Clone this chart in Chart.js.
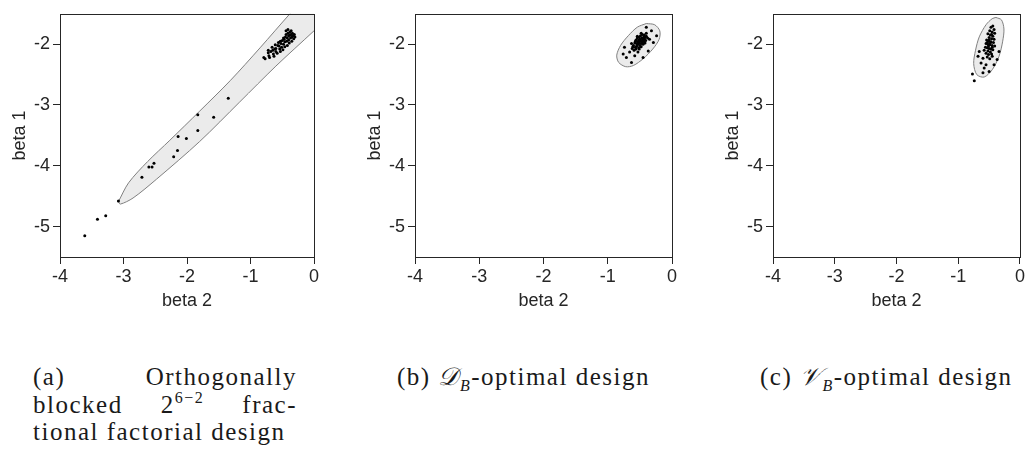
<!DOCTYPE html>
<html>
<head>
<meta charset="utf-8">
<script src="https://cdn.jsdelivr.net/npm/chart.js@4.4.1/dist/chart.umd.min.js"></script>
<style>
  html, body { margin: 0; padding: 0; background: #fff; }
  body { width: 1027px; height: 466px; position: relative; overflow: hidden; }
  canvas { position: absolute; top: 0; }
  .cap { position: absolute; font-family: 'Liberation Serif', serif; font-size: 25px; line-height: 27.5px; letter-spacing: 1.5px; color: #1a1a1a; }
  .cap .line { display: flex; justify-content: space-between; white-space: nowrap; }
  .cap sup { font-size: 16px; line-height: 0; position: relative; top: 0px; }
  .cap sub { font-size: 16px; line-height: 0; font-style: italic; }
  .cal { font-style: italic; }
</style>
</head>
<body>
<canvas id="plot-a" width="330" height="320" style="left:0px"></canvas>
<canvas id="plot-b" width="330" height="320" style="left:355px"></canvas>
<canvas id="plot-c" width="314" height="320" style="left:713px"></canvas>

<div class="cap" style="left:33px; top:363px; width:264px">
  <div class="line"><span>(a)</span><span>Orthogonally</span></div>
  <div class="line"><span>blocked</span><span>2<sup>6−2</sup></span><span>frac-</span></div>
  <div class="line"><span>tional factorial design</span></div>
</div>
<div class="cap" style="left:397px; top:363px;">(b) <span class="cal">𝒟</span><sub>B</sub>-optimal design</div>
<div class="cap" style="left:760px; top:363px;">(c) <span class="cal">𝒱</span><sub>B</sub>-optimal design</div>

<script>
// axes (same for all three panels)
const xRange = [-4, 0];
const yRange = [-5.5, -1.5];
const xTicks = [-4, -3, -2, -1, 0];
const yTicks = [-5, -4, -3, -2];

// (a) orthogonally blocked fractional factorial: region outline + simulated draws [beta2, beta1]
const regionA = [
    [-3.08, -4.59], [-2.92, -4.28], [-2.62, -3.93], [-2.27, -3.58], [-1.80, -3.10],
    [-1.32, -2.60], [-0.85, -2.06], [-0.38, -1.50], [0.20, -0.83],
    [0.20, -1.58], [0.00, -1.78], [-0.60, -2.36], [-1.17, -2.95], [-1.80, -3.60],
    [-2.48, -4.22], [-2.85, -4.53], [-3.05, -4.63], [-3.08, -4.59],
];
const pointsA = [
    [-3.61, -5.15], [-3.41, -4.88], [-3.28, -4.82], [-3.08, -4.58], [-2.71, -4.19],
    [-2.60, -4.02], [-2.55, -4.02], [-2.52, -3.96], [-2.21, -3.85], [-2.15, -3.75],
    [-2.14, -3.52], [-2.01, -3.55], [-1.83, -3.16], [-1.83, -3.42], [-1.58, -3.20],
    [-1.35, -2.89],
    [-0.79, -2.22], [-0.77, -2.24], [-0.72, -2.10], [-0.72, -2.14], [-0.71, -2.19],
    [-0.70, -2.22], [-0.66, -2.05], [-0.65, -2.10], [-0.64, -2.16], [-0.63, -2.20],
    [-0.61, -2.01], [-0.60, -2.07], [-0.60, -2.12], [-0.58, -2.15], [-0.56, -1.97],
    [-0.55, -2.03], [-0.54, -2.08], [-0.53, -2.12], [-0.52, -1.99], [-0.51, -2.05],
    [-0.50, -1.94], [-0.49, -2.09], [-0.48, -2.00], [-0.47, -1.92], [-0.46, -1.96],
    [-0.46, -2.04], [-0.45, -1.88], [-0.44, -1.84], [-0.43, -1.95], [-0.42, -2.02],
    [-0.42, -1.90], [-0.41, -1.82], [-0.40, -1.86], [-0.40, -1.93], [-0.39, -1.98],
    [-0.38, -1.85], [-0.38, -1.80], [-0.37, -1.90], [-0.36, -1.84], [-0.35, -1.88],
    [-0.35, -1.95], [-0.34, -1.82], [-0.33, -1.86], [-0.32, -1.91], [-0.31, -1.84],
    [-0.30, -1.88], [-0.44, -1.78], [-0.41, -1.76], [-0.36, -1.78], [-0.48, -1.90],
    [-0.53, -1.95], [-0.57, -2.02], [-0.62, -2.08], [-0.68, -2.12],
];

// (b) D_B-optimal design
const regionB = [
    [-0.40, -1.66], [-0.27, -1.68], [-0.19, -1.78], [-0.20, -1.92], [-0.30, -2.08],
    [-0.45, -2.24], [-0.60, -2.35], [-0.72, -2.37], [-0.83, -2.30], [-0.86, -2.18],
    [-0.80, -2.02], [-0.68, -1.86], [-0.54, -1.72], [-0.40, -1.66],
];
const pointsB = [
    [-0.32, -1.78], [-0.24, -1.86], [-0.29, -1.97], [-0.37, -2.11], [-0.45, -2.22],
    [-0.66, -2.13], [-0.71, -2.22], [-0.63, -2.30], [-0.76, -2.16], [-0.58, -2.19],
    [-0.53, -2.13], [-0.35, -1.92], [-0.74, -2.05], [-0.40, -1.72],
    [-0.60, -2.02], [-0.58, -1.98], [-0.57, -2.05], [-0.56, -1.93], [-0.55, -1.99],
    [-0.55, -2.03], [-0.54, -1.90], [-0.53, -1.96], [-0.53, -2.00], [-0.52, -2.06],
    [-0.52, -1.93], [-0.51, -1.88], [-0.51, -1.98], [-0.50, -2.02], [-0.50, -1.92],
    [-0.49, -1.95], [-0.49, -1.86], [-0.48, -1.99], [-0.48, -2.04], [-0.47, -1.90],
    [-0.47, -1.94], [-0.46, -1.97], [-0.46, -1.84], [-0.45, -1.91], [-0.45, -2.00],
    [-0.44, -1.88], [-0.44, -1.95], [-0.43, -1.92], [-0.43, -1.85], [-0.42, -1.98],
    [-0.42, -1.89], [-0.41, -1.94], [-0.40, -1.87], [-0.40, -1.82], [-0.62, -2.07],
    [-0.59, -2.10], [-0.56, -2.08], [-0.63, -1.99], [-0.54, -1.87], [-0.48, -1.82],
    [-0.38, -1.90], [-0.57, -1.95], [-0.61, -2.04], [-0.51, -2.08],
];

// (c) V_B-optimal design
const regionC = [
    [-0.39, -1.56], [-0.30, -1.60], [-0.26, -1.75], [-0.28, -1.95], [-0.34, -2.20],
    [-0.45, -2.42], [-0.58, -2.54], [-0.70, -2.50], [-0.75, -2.32], [-0.72, -2.10],
    [-0.66, -1.88], [-0.55, -1.68], [-0.45, -1.58], [-0.39, -1.56],
];
const pointsC = [
    [-0.66, -2.12], [-0.68, -2.20], [-0.60, -2.23], [-0.63, -2.31], [-0.55, -2.34],
    [-0.58, -2.39], [-0.50, -2.45], [-0.60, -2.47], [-0.42, -2.34], [-0.37, -2.25],
    [-0.34, -2.12], [-0.45, -2.20], [-0.77, -2.49], [-0.74, -2.60],
    [-0.47, -1.72], [-0.44, -1.70], [-0.42, -1.76], [-0.49, -1.78], [-0.45, -1.80],
    [-0.41, -1.82], [-0.52, -1.83], [-0.48, -1.85], [-0.44, -1.87], [-0.50, -1.89],
    [-0.46, -1.91], [-0.42, -1.92], [-0.54, -1.93], [-0.51, -1.95], [-0.47, -1.96],
    [-0.43, -1.97], [-0.55, -1.99], [-0.52, -2.00], [-0.49, -2.01], [-0.45, -2.02],
    [-0.41, -2.03], [-0.56, -2.05], [-0.53, -2.06], [-0.50, -2.07], [-0.47, -2.08],
    [-0.44, -2.09], [-0.58, -2.10], [-0.52, -2.11], [-0.48, -2.13], [-0.55, -2.15],
    [-0.51, -2.17], [-0.46, -2.16], [-0.53, -2.21], [-0.49, -2.24], [-0.50, -1.93],
    [-0.46, -1.84], [-0.51, -2.03], [-0.48, -1.98], [-0.53, -1.97], [-0.45, -2.05],
];

const AXIS_FONT = { family: "'Liberation Sans', Arial, sans-serif", size: 18 };
const INK = '#262626';

// box round the plot area
const framePlugin = {
    id: 'frame',
    afterDatasetsDraw(chart) {
        const { ctx, chartArea: a } = chart;
        ctx.save();
        ctx.strokeStyle = INK;
        ctx.lineWidth = 1;
        ctx.strokeRect(Math.round(a.left) + 0.5, Math.round(a.top) + 0.5,
            Math.round(a.right - a.left), Math.round(a.bottom - a.top));
        ctx.restore();
    },
};

const toXY = arr => arr.map(p => ({ x: p[0], y: p[1] }));

function makePlot(id, region, points, padRight) {
    return new Chart(document.getElementById(id), {
        type: 'scatter',
        data: {
            datasets: [
                {
                    data: toXY(points),
                    pointRadius: 1.5,
                    pointBackgroundColor: '#000',
                    pointBorderWidth: 0,
                    order: 0,
                },
                {
                    data: toXY(region),
                    showLine: true,
                    fill: 'shape',
                    backgroundColor: '#ebebeb',
                    borderColor: '#808080',
                    borderWidth: 1,
                    pointRadius: 0,
                    tension: 0.3,
                    clip: 0,
                    order: 1,
                },
            ],
        },
        options: {
            responsive: false,
            animation: false,
            layout: { padding: { top: 13, right: padRight, left: 0, bottom: 0 } },
            plugins: { legend: { display: false }, tooltip: { enabled: false } },
            scales: {
                x: {
                    type: 'linear',
                    min: xRange[0],
                    max: xRange[1],
                    afterBuildTicks: s => { s.ticks = xTicks.map(v => ({ value: v })); },
                    afterFit: s => { s.height = 63; },
                    ticks: { color: INK, font: AXIS_FONT, padding: 2, maxRotation: 0, callback: v => String(v) },
                    grid: { drawOnChartArea: false, tickLength: 7, color: INK },
                    border: { display: false },
                    title: { display: true, text: 'beta 2', color: INK, font: AXIS_FONT, padding: { top: 0, bottom: 8 } },
                },
                y: {
                    type: 'linear',
                    min: yRange[0],
                    max: yRange[1],
                    afterBuildTicks: s => { s.ticks = yTicks.map(v => ({ value: v })); },
                    afterFit: s => { s.width = 60; },
                    ticks: { color: INK, font: AXIS_FONT, padding: 3, callback: v => String(v) },
                    grid: { drawOnChartArea: false, tickLength: 7, color: INK },
                    border: { display: false },
                    title: { display: true, text: 'beta 1', color: INK, font: AXIS_FONT, padding: { top: 9, bottom: 0 } },
                },
            },
        },
        plugins: [framePlugin],
    });
}

makePlot('plot-a', regionA, pointsA, 16);
makePlot('plot-b', regionB, pointsB, 13);
makePlot('plot-c', regionC, pointsC, 1);
</script>
</body>
</html>
